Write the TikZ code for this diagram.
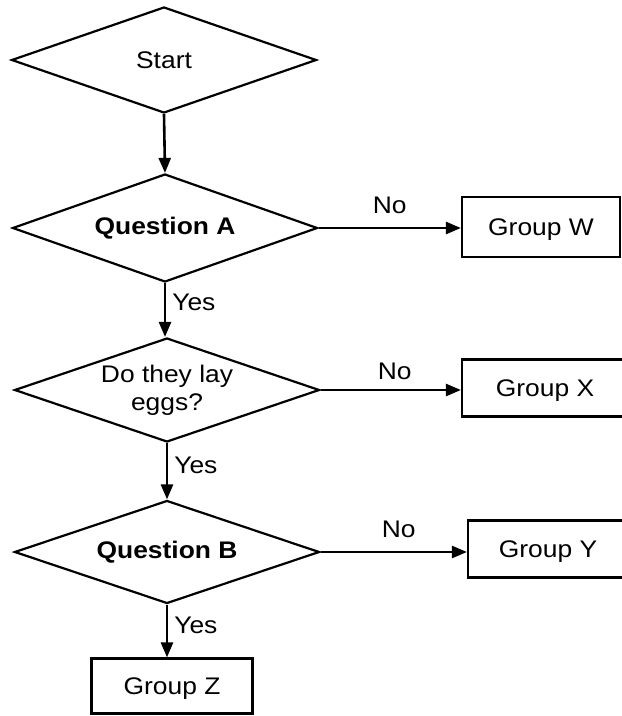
\documentclass[tikz,border=0pt]{standalone}
\usepackage{fontspec}
\setmainfont{Liberation Sans}[FakeStretch=1.1]
\usetikzlibrary{shapes.geometric,arrows.meta}
\begin{document}
\begin{tikzpicture}[x=1pt,y=-1pt,
  every node/.style={font=\fontsize{24}{28}\selectfont},
  dia/.style={shape=diamond, aspect=2.9, draw, line width=2.2pt, minimum width=305pt, minimum height=106pt, inner sep=0pt, align=center},
  grp/.style={draw, line width=2.2pt, minimum width=#1, minimum height=57pt, inner sep=0pt, text height=17pt, text depth=1pt},
  arr/.style={line width=2.6pt, -{Triangle[length=15pt,width=12pt]}},
  lbl/.style={inner sep=1pt},
  yes/.style={lbl, right, xshift=5pt}
]
\useasboundingbox (0,0) rectangle (622,716);
\clip (0,0) rectangle (622,716);
\node[dia] (start) at (164,60) {Start};
\node[dia, minimum height=108pt, font=\fontsize{24}{28}\selectfont\bfseries] (qa) at (165,228) {Question A};
\node[dia, minimum height=104pt] (eggs) at (167,390) {Do they lay\\eggs?};
\node[dia, minimum height=103pt, font=\fontsize{24}{28}\selectfont\bfseries] (qb) at (167,552) {Question B};
\node[grp=158pt, minimum height=60pt] (w) at (541,227) {Group W};
\node[grp=166pt] (x) at (545,388) {Group X};
\node[grp=160pt] (y) at (548,549) {Group Y};
\node[grp=161pt, minimum height=55pt] (z) at (172,686) {Group Z};

\draw[arr] (start.south) -- (qa.north);
\draw[arr] (qa.south) -- (qa.south |- eggs.north) node[yes, pos=0.35] {Yes};
\draw[arr] (eggs.south) -- (eggs.south |- qb.north) node[yes, pos=0.4] {Yes};
\draw[arr] (qb.south) -- (qb.south |- z.north) node[yes, pos=0.4] {Yes};
\draw[arr] (qa.east) -- (qa.east -| w.west) node[lbl, above, pos=0.5, yshift=12pt] {No};
\draw[arr] (eggs.east) -- (eggs.east -| x.west) node[lbl, above, pos=0.5, xshift=4pt, yshift=8pt] {No};
\draw[arr] (qb.east) -- (qb.east -| y.west) node[lbl, above, pos=0.5, xshift=5pt, yshift=12pt] {No};
\end{tikzpicture}
\end{document}
